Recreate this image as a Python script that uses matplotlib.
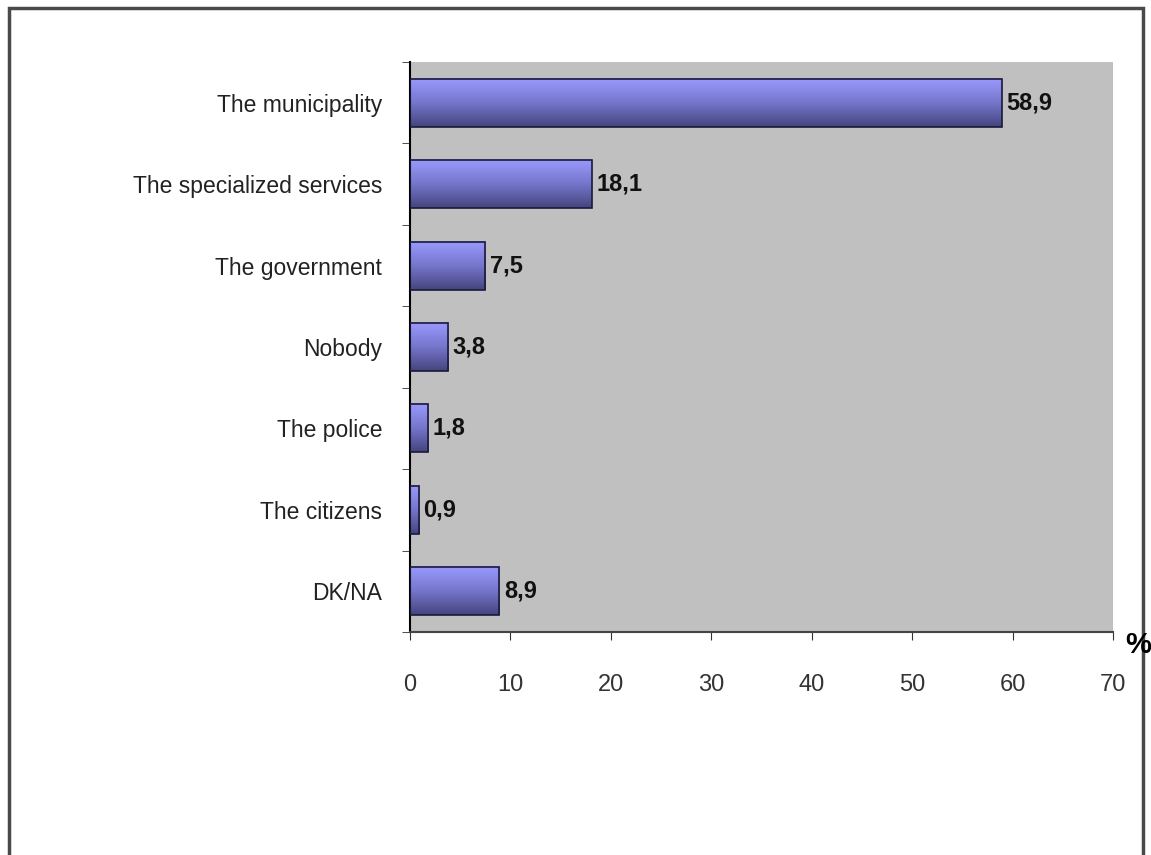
import numpy as np
import matplotlib
matplotlib.use("Agg")
import matplotlib.pyplot as plt
from matplotlib.colors import LinearSegmentedColormap
from matplotlib.patches import Rectangle

# Data
categories = ["The municipality", "The specialized services", "The government",
              "Nobody", "The police", "The citizens", "DK/NA"]
values = [58.9, 18.1, 7.5, 3.8, 1.8, 0.9, 8.9]
x_ticks = [0, 10, 20, 30, 40, 50, 60, 70]

plt.rcParams['font.family'] = ['Liberation Sans', 'DejaVu Sans']

fig = plt.figure(figsize=(11.51, 8.55), dpi=100)
fig.patch.set_facecolor("white")

# Outer frame of the picture
frame = Rectangle((9 / 1151, -0.05), (1143 - 9) / 1151, (855 - 8) / 855 + 0.05,
                  transform=fig.transFigure, fill=False, edgecolor="#4a4a4a",
                  linewidth=2.5, zorder=0)
fig.patches.append(frame)

ax = fig.add_axes([410 / 1151, 1 - 632 / 855, (1113 - 410) / 1151, (632 - 62) / 855])
ax.set_facecolor("#c0c0c0")

# Gradient colormap for the bars (light on top, dark at bottom)
cmap = LinearSegmentedColormap.from_list("bar", ["#44447e", "#7676cc", "#9a9aff"])
grad = np.linspace(0, 1, 256).reshape(-1, 1)

n = len(categories)
bar_h = 0.59
for i, (cat, val) in enumerate(zip(categories, values)):
    y = n - 1 - i
    ax.imshow(grad, extent=(0, val, y - bar_h / 2, y + bar_h / 2), origin="lower",
              cmap=cmap, aspect="auto", zorder=2)
    ax.barh(y, val, height=bar_h, color="none", edgecolor="#1a1a3a",
            linewidth=1.2, zorder=3)
    ax.text(val + 0.45, y, ("%.1f" % val).replace(".", ","), va="center", ha="left",
            fontsize=17, fontweight="bold", color="#111111", zorder=4)

ax.set_xlim(0, 70)
ax.set_ylim(-0.5, n - 0.5)
ax.set_xticks(x_ticks)
ax.set_xticklabels([str(t) for t in x_ticks], fontsize=17, color="#333333")
ax.tick_params(axis="x", direction="out", length=6, pad=24, color="#333333")

# Category labels centred on bars, ticks on band boundaries
ax.set_yticks(np.arange(n))
ax.set_yticklabels(categories[::-1], fontsize=16.5, color="#222222")
ax.tick_params(axis="y", which="major", length=0, pad=20)
ax.set_yticks(np.arange(-0.5, n, 1.0), minor=True)
ax.tick_params(axis="y", which="minor", direction="out", length=6, color="#333333")

for side in ["top", "right"]:
    ax.spines[side].set_visible(False)
ax.spines["left"].set_color("black")
ax.spines["left"].set_linewidth(1.5)
ax.spines["bottom"].set_color("#444444")
ax.spines["bottom"].set_linewidth(1.5)

fig.text(1151 / 1151, 1 - 645 / 855, "%", ha="right", va="center",
         fontsize=21, fontweight="bold")

fig.savefig("out.png", dpi=100)
